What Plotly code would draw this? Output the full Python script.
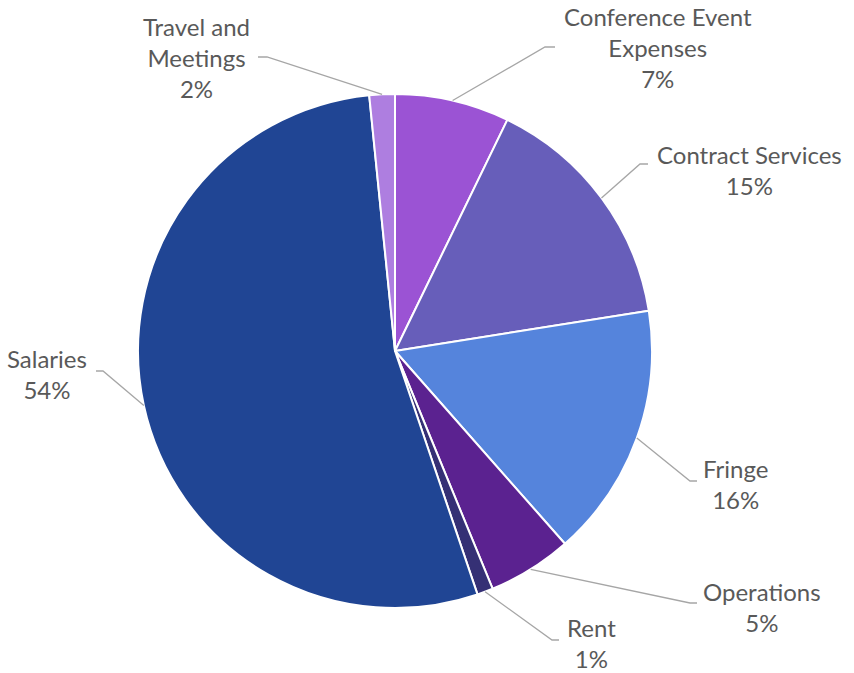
import math
import plotly.graph_objects as go

# ---- data ----
categories = ["Conference Event<br>Expenses", "Contract Services", "Fringe", "Operations",
              "Rent", "Salaries", "Travel and<br>Meetings"]
values = [7.2, 15.3, 16.0, 5.3, 1.0, 53.6, 1.6]
colors = ["#9B53D4", "#675EBA", "#5584DC", "#5B2290", "#353075", "#204594", "#AE7EE0"]

# ---- layout geometry (pixels) ----
W, H = 854, 673
cx, cy, R = 395, 351, 257

# label block centres and leader-line elbow/end points (pixels)
label_pos = [(658, 48), (749, 170), (735, 484), (762, 607), (591, 643), (47, 374), (196, 57)]
elbow_pts = [(545, 47), (640, 164), (690, 481), (690, 603), (552, 640), (103, 371), (267, 57)]
end_pts = [(555, 47), (648, 164), (697, 481), (697, 603), (559, 640), (96, 371), (258, 57)]


def px(x, y):
    return x / W, 1 - y / H


fig = go.Figure(go.Pie(
    labels=categories, values=values, sort=False, direction="clockwise", rotation=0,
    marker=dict(colors=colors, line=dict(color="white", width=2)),
    textinfo="none", hoverinfo="label+percent", showlegend=False,
    domain=dict(x=[(cx - R) / W, (cx + R) / W], y=[1 - (cy + R) / H, 1 - (cy - R) / H]),
))

total = sum(values)
cum = 0
shapes = []
annotations = []
for i, v in enumerate(values):
    mid = (cum + v / 2) / total * 2 * math.pi
    cum += v
    sx, sy = cx + R * math.sin(mid), cy - R * math.cos(mid)
    p0 = px(sx, sy)
    p1 = px(*elbow_pts[i])
    p2 = px(*end_pts[i])
    shapes.append(dict(type="path", xref="paper", yref="paper",
                       path=f"M {p0[0]},{p0[1]} L {p1[0]},{p1[1]} L {p2[0]},{p2[1]}",
                       line=dict(color="#A6A6A6", width=1.3)))
    pct = round(v / total * 100)
    lx, ly = px(*label_pos[i])
    annotations.append(dict(x=lx, y=ly, xref="paper", yref="paper", showarrow=False,
                            text=f"{categories[i]}<br>{pct}%", xanchor="center", yanchor="middle",
                            font=dict(family="Lato", size=24, color="#595959")))

fig.update_layout(width=W, height=H, margin=dict(l=0, r=0, t=0, b=0),
                  paper_bgcolor="white", plot_bgcolor="white",
                  shapes=shapes, annotations=annotations)
fig.write_html("out.html", config={"displayModeBar": False},
               post_script="document.body.style.margin='0';")
